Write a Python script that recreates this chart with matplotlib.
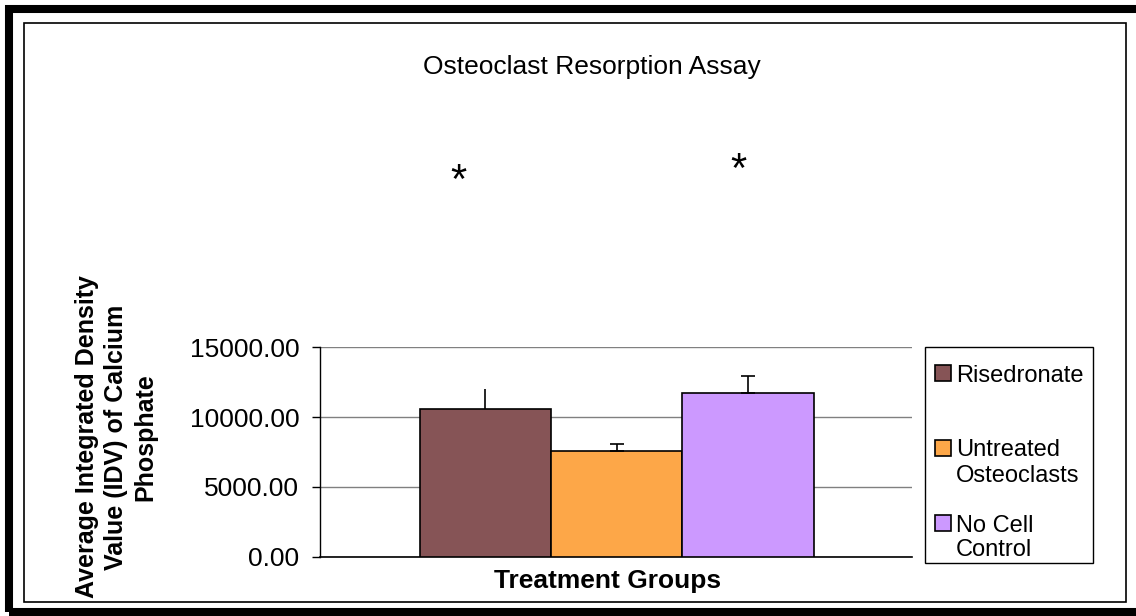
import numpy as np
import matplotlib
matplotlib.use("Agg")
import matplotlib.pyplot as plt
from matplotlib.patches import Rectangle

# =============================
# Data
# =============================
groups = ["Risedronate", "Untreated\nOsteoclasts", "No Cell\nControl"]
means = [10600, 7600, 11700]
errors = [1400, 500, 1200]
caps = [0, 5, 5]          # first error bar has no visible cap
colors = ["#865456", "#FDA748", "#CC99FF"]
yticks = [0, 5000, 10000, 15000]

plt.rcParams['font.family'] = ['Liberation Sans', 'DejaVu Sans']

W, H = 1136, 616
fig = plt.figure(figsize=(W / 100, H / 100), dpi=100)


def fx(px):
    return px / W


def fy(py):
    # pixel row from the top -> figure fraction
    return 1 - py / H


# outer thick border + inner thin frame
fig.patches.append(Rectangle((fx(9), fy(612)), 1.2, 1 - 13 / H, transform=fig.transFigure,
                             fill=False, lw=5.8, ec="black"))
fig.patches.append(Rectangle((fx(24), fy(602)), fx(1126 - 24), (602 - 23) / H,
                             transform=fig.transFigure, fill=False, lw=1.2, ec="black"))

ax = fig.add_axes([fx(320), fy(557), fx(912 - 320), (557 - 347) / H])

x = np.arange(len(means))
bars = ax.bar(x, means, width=1.0, color=colors, edgecolor="black", linewidth=1.2, zorder=3)
for i in range(len(means)):
    ax.errorbar(x[i], means[i], yerr=[[0], [errors[i]]], fmt="none", ecolor="black",
                elinewidth=1.2, capsize=caps[i], capthick=1.2, zorder=4)

ax.set_xlim(-1.26, 3.25)
ax.set_ylim(0, 15000)
ax.set_yticks(yticks)
ax.set_yticklabels(["%.2f" % v for v in yticks], fontsize=19)
ax.tick_params(axis="y", direction="out", length=6, width=1, pad=9)
ax.set_xticks([])
ax.yaxis.grid(True, color="#808080", lw=1)
ax.set_axisbelow(True)
for s in ["top", "right"]:
    ax.spines[s].set_visible(False)
ax.spines["left"].set_linewidth(1)
ax.spines["bottom"].set_linewidth(1.2)

# legend, drawn by hand (Excel style: square next to the first line)
fig.patches.append(Rectangle((fx(925), fy(563)), fx(1093 - 925), (563 - 347) / H,
                             transform=fig.transFigure, fill=False, lw=1, ec="black"))
slot_y = 373
for lab, col in zip(groups, colors):
    fig.patches.append(Rectangle((fx(935), fy(slot_y + 8)), fx(16), 16 / H,
                                 transform=fig.transFigure, fc=col, ec="black", lw=1.2))
    for k, line in enumerate(lab.split("\n")):
        fig.text(fx(956), fy(slot_y + 25 * k), line, ha="left", va="center_baseline",
                 fontsize=17)
    slot_y += 75

# texts
fig.text(fx(592), fy(67), "Osteoclast Resorption Assay", ha="center", va="center", fontsize=19)
fig.text(fx(608), fy(581), "Treatment Groups", ha="center", va="center",
         fontsize=19, fontweight="bold")
fig.text(fx(116), fy(437), "Average Integrated Density\nValue (IDV) of Calcium\nPhosphate",
         ha="center", va="center", rotation=90, fontsize=18, fontweight="bold",
         linespacing=1.28)
fig.text(fx(458), fy(182), "*", ha="center", va="center", fontsize=30)
fig.text(fx(738), fy(171), "*", ha="center", va="center", fontsize=30)

fig.savefig("out.png", dpi=100)
